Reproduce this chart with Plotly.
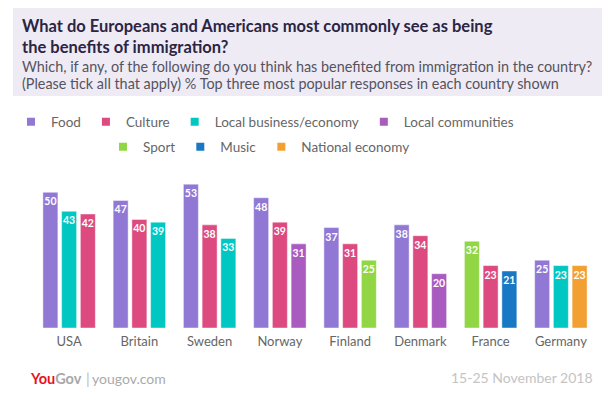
import plotly.graph_objects as go

# ---------------- data ----------------
countries = ["USA", "Britain", "Sweden", "Norway", "Finland", "Denmark", "France", "Germany"]

first_cat = ["Food", "Food", "Food", "Food", "Food", "Food", "Sport", "Food"]
first_val = [50, 47, 53, 48, 37, 38, 32, 25]

second_cat = ["Local business/economy", "Culture", "Culture", "Culture", "Culture",
              "Culture", "Culture", "Local business/economy"]
second_val = [43, 40, 38, 39, 31, 34, 23, 23]

third_cat = ["Culture", "Local business/economy", "Local business/economy", "Local communities",
             "Sport", "Local communities", "Music", "National economy"]
third_val = [42, 39, 33, 31, 25, 20, 21, 23]

legend_row1 = ["Food", "Culture", "Local business/economy", "Local communities"]
legend_row2 = ["Sport", "Music", "National economy"]

title_text = "What do Europeans and Americans most commonly see as being<br>the benefits of immigration?"
subtitle_line1 = "Which, if any, of the following do you think has benefited from immigration in the country?"
subtitle_line2 = "(Please tick all that apply) % Top three most popular responses in each country shown"
date_text = "15-25 November 2018"

# ---------------- styles ----------------
colors = {
    "Food": "#9178D5",
    "Culture": "#DC4A7F",
    "Local business/economy": "#00C7C2",
    "Local communities": "#A95BBF",
    "Sport": "#91D645",
    "Music": "#1878C3",
    "National economy": "#F2A031",
}

FONT = "Lato"
OFF = 8  # page body margin
W, H = 610 - OFF, 397 - OFF
ML, MR, MT, MB = 26, 14, 168, 69
PW, PH = W - ML - MR, H - MT - MB


def px_x(p):
    return (p - OFF - ML) / PW


def px_y(p):
    return (H - MB - (p - OFF)) / PH


fig = go.Figure()

for cats, vals in [(first_cat, first_val), (second_cat, second_val), (third_cat, third_val)]:
    fig.add_trace(go.Bar(
        x=countries, y=vals,
        marker=dict(color=[colors[c] for c in cats],
                    line=dict(color="rgba(255,255,255,0.45)", width=1)),
        text=vals, textposition="inside", insidetextanchor="end", textangle=0,
        constraintext="none",
        textfont=dict(family=FONT, size=10.5, color="white", weight="bold"),
        showlegend=False, hoverinfo="x+y",
    ))

for row, lg in [(legend_row1, "legend"), (legend_row2, "legend2")]:
    for c in row:
        fig.add_trace(go.Scatter(
            x=[None], y=[None], mode="markers", name=c, legend=lg,
            marker=dict(symbol="square", size=8, color=colors[c]),
        ))

fig.update_layout(
    width=W, height=H, autosize=False,
    margin=dict(l=ML, r=MR, t=MT, b=MB, pad=0, autoexpand=False),
    paper_bgcolor="white", plot_bgcolor="white",
    barmode="group", bargap=0.2, bargroupgap=0.2,
    font=dict(family=FONT, color="#555555"),
    xaxis=dict(showgrid=False, showline=False, zeroline=False, ticks="",
               tickfont=dict(family=FONT, size=13, color="#666666"),
               ticklabelstandoff=4, fixedrange=True),
    yaxis=dict(range=[0, 56], visible=False, fixedrange=True),
    legend=dict(orientation="h", x=px_x(265), xanchor="center", y=px_y(122), yanchor="middle",
                font=dict(family=FONT, size=13.5, color="#666666"), bgcolor="rgba(0,0,0,0)",
                itemclick=False, itemdoubleclick=False),
    legend2=dict(orientation="h", x=px_x(259), xanchor="center", y=px_y(147), yanchor="middle",
                 font=dict(family=FONT, size=13.5, color="#666666"), bgcolor="rgba(0,0,0,0)",
                 itemclick=False, itemdoubleclick=False),
    shapes=[dict(type="rect", xref="paper", yref="paper",
                 x0=px_x(13), x1=px_x(612), y0=px_y(96), y1=px_y(8),
                 fillcolor="#EEEBF5", line=dict(width=0), layer="below")],
    annotations=[
        dict(text="<b>" + title_text + "</b>", xref="paper", yref="paper",
             x=px_x(20), y=px_y(14), xanchor="left", yanchor="top", align="left", showarrow=False,
             font=dict(family=FONT, size=16.5, color="#2A2545")),
        dict(text=subtitle_line1, xref="paper", yref="paper",
             x=px_x(20), y=px_y(66.5), xanchor="left", yanchor="middle", align="left", showarrow=False,
             font=dict(family=FONT, size=14.4, color="#55535F")),
        dict(text=subtitle_line2, xref="paper", yref="paper",
             x=px_x(20), y=px_y(84), xanchor="left", yanchor="middle", align="left", showarrow=False,
             font=dict(family=FONT, size=14.4, color="#55535F")),
        dict(text="<b><span style='color:#E4141D'>You</span><span style='color:#A8A8A8'>Gov</span></b>",
             xref="paper", yref="paper", x=px_x(28), y=px_y(378), xanchor="left", yanchor="middle",
             showarrow=False, font=dict(family=FONT, size=14.5)),
        dict(text="|", xref="paper", yref="paper", x=px_x(84), y=px_y(378),
             xanchor="left", yanchor="middle", showarrow=False,
             font=dict(family=FONT, size=15, color="#BBBBBB")),
        dict(text="yougov.com", xref="paper", yref="paper", x=px_x(90), y=px_y(378),
             xanchor="left", yanchor="middle", showarrow=False,
             font=dict(family=FONT, size=14, color="#AAAAAA")),
        dict(text=date_text, xref="paper", yref="paper", x=px_x(595), y=px_y(377),
             xanchor="right", yanchor="middle", showarrow=False,
             font=dict(family=FONT, size=14, color="#C4C4C4")),
    ],
)

fig.write_html("out.html")
